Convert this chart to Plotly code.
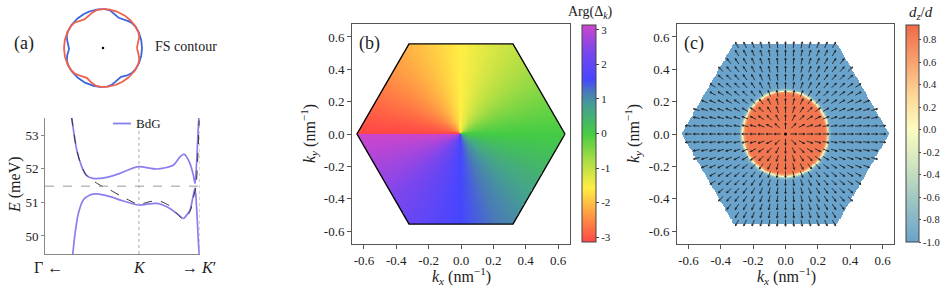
import numpy as np
import plotly.graph_objects as go

W, H = 946, 291
SERIF = "Liberation Serif"
TXT = "#222222"


def px(x):
    return x / W


def py(y):
    return 1 - y / H


# ---------------- panel (a): band dispersion (k along Gamma->K->K') ----------------
K_POS = 0.606
E_FERMI = 51.48
k_upper = [0.171, 0.205, 0.237, 0.265, 0.310, 0.398, 0.484, 0.600, 0.721, 0.826,
           0.871, 0.897, 0.935, 0.957, 0.968, 0.979, 0.989, 0.995]
E_upper = [53.55, 52.55, 52.06, 51.81, 51.71, 51.74, 51.86, 52.06, 51.99, 52.10,
           52.35, 52.43, 52.16, 51.81, 51.56, 52.26, 53.24, 53.70]
k_lower = [0.178, 0.194, 0.215, 0.247, 0.290, 0.334, 0.419, 0.505, 0.602, 0.721,
           0.806, 0.871, 0.892, 0.935, 0.957, 0.968, 0.979, 0.989, 0.995]
E_lower = [49.40, 50.08, 50.67, 51.07, 51.22, 51.25, 51.17, 51.04, 50.92, 50.97,
           50.82, 50.59, 50.52, 50.77, 51.22, 51.42, 50.77, 49.88, 49.40]
k_normal = [0.171, 0.205, 0.237, 0.265, 0.290, 0.355, 0.419, 0.484, 0.548, 0.602,
            0.677, 0.731, 0.806, 0.850, 0.892, 0.935, 0.957, 0.974, 0.983, 0.995]
E_normal = [53.55, 52.55, 52.06, 51.82, 51.71, 51.51, 51.37, 51.20, 51.05, 50.94,
            51.02, 51.05, 50.89, 50.67, 50.50, 50.72, 51.12, 51.48, 52.06, 53.44]
E_ticks = [50, 51, 52, 53]

# ---------------- FS contour inset parameters ----------------
FS_R = 1.0
FS_DENT = 0.13
FS_DENT_W = 0.24
FS_RED_DENTS = [0.0, 2 * np.pi / 3, 4 * np.pi / 3]
FS_BLUE_DENTS = [np.pi / 3, np.pi, 5 * np.pi / 3]

# ---------------- panels (b), (c): BZ fields ----------------
HEX_R = 0.643
DISK_R = 0.265
DZ_IN = 0.86
DZ_OUT = -1.0
DZ_W = 0.011
ARROW_STEP = 0.05
ARROW_LEN = 0.040
HEAD_LEN = 0.013
k_ticks = [-0.6, -0.4, -0.2, 0.0, 0.2, 0.4, 0.6]
k_ticktext = ["-0.6", "-0.4", "-0.2", "0.0", "0.2", "0.4", "0.6"]
arg_ticks = [-3, -2, -1, 0, 1, 2, 3]
arg_ticktext = ["-3", "-2", "-1", "0", "1", "2", "3"]
dz_ticks = [-1.0, -0.8, -0.6, -0.4, -0.2, 0.0, 0.2, 0.4, 0.6, 0.8]
dz_ticktext = ["-1.0", "-0.8", "-0.6", "-0.4", "-0.2", "0.0", "0.2", "0.4", "0.6", "0.8"]
DZ_MIN, DZ_MAX = -1.0, 0.93

BDG = "#8b7ff0"
RED = "#f2604c"
BLUE = "#3a66dd"

arg_scale = [
    [0.0, "#ff4646"], [0.125, "#ff9a44"], [0.25, "#ffee44"], [0.375, "#aadd44"],
    [0.5, "#44cc44"], [0.625, "#45a090"], [0.69, "#4a7ab8"], [0.75, "#4646ff"],
    [0.875, "#7a46ee"], [1.0, "#cc46cc"],
]
dz_scale = [
    [0.0, "#6aa3cb"], [0.207, "#a2c8c2"], [0.363, "#d2e6c0"], [0.518, "#fcfcc0"],
    [0.674, "#fdd898"], [0.829, "#f8a26e"], [1.0, "#f06a48"],
]

fig = go.Figure()

# ---- (a) bands ----
for kk, ee in ((k_upper, E_upper), (k_lower, E_lower)):
    fig.add_trace(go.Scatter(x=kk, y=ee, mode="lines",
                             line=dict(color=BDG, width=1.7, shape="spline", smoothing=0.7),
                             xaxis="x", yaxis="y", hoverinfo="skip"))
fig.add_trace(go.Scatter(x=k_normal, y=E_normal, mode="lines",
                         line=dict(color="#333333", width=1.0, dash="dash", shape="spline", smoothing=0.7),
                         xaxis="x", yaxis="y", hoverinfo="skip"))

# ---- FS inset ----
th = np.linspace(0, 2 * np.pi, 721)


def fs_radius(centers):
    r = np.full_like(th, FS_R)
    for c in centers:
        d = np.angle(np.exp(1j * (th - c)))
        r -= FS_DENT * np.exp(-(d / FS_DENT_W) ** 2)
    return r


rb = fs_radius(FS_BLUE_DENTS)
rr = fs_radius(FS_RED_DENTS)
fig.add_trace(go.Scatter(x=rb * np.cos(th), y=rb * np.sin(th), mode="lines",
                         line=dict(color=BLUE, width=1.8), xaxis="x2", yaxis="y2", hoverinfo="skip"))
fig.add_trace(go.Scatter(x=rr * np.cos(th), y=rr * np.sin(th), mode="lines",
                         line=dict(color=RED, width=1.8), xaxis="x2", yaxis="y2", hoverinfo="skip"))
fig.add_trace(go.Scatter(x=[0], y=[0], mode="markers", marker=dict(color="black", size=2.5),
                         xaxis="x2", yaxis="y2", hoverinfo="skip"))

# ---- grids for (b), (c) ----
N = 241
g = np.linspace(-0.66, 0.66, N)
X, Y = np.meshgrid(g, g)
s3 = np.sqrt(3)
inside = (np.abs(Y) <= HEX_R * s3 / 2) & (s3 * np.abs(X) + np.abs(Y) <= s3 * HEX_R)


def masked(Z):
    Z = np.round(Z, 3)
    return [[(float(v) if m else None) for v, m in zip(row, mrow)] for row, mrow in zip(Z, inside)]


phase = -np.arctan2(Y, X)
fig.add_trace(go.Heatmap(x=g, y=g, z=masked(phase), zmin=-np.pi, zmax=np.pi,
                         colorscale=arg_scale, xaxis="x3", yaxis="y3", hoverinfo="skip",
                         colorbar=dict(x=px(582), xanchor="left", y=py(133.5), yanchor="middle",
                                       len=217 / H, lenmode="fraction", thickness=14,
                                       thicknessmode="pixels", xpad=0, ypad=0,
                                       outlinewidth=1, outlinecolor="#444",
                                       tickvals=arg_ticks, ticktext=arg_ticktext,
                                       ticks="outside", ticklen=3, tickcolor="#444",
                                       tickfont=dict(family=SERIF, size=11, color=TXT))))
hx = [HEX_R * np.cos(a) for a in np.arange(7) * np.pi / 3]
hy = [HEX_R * np.sin(a) for a in np.arange(7) * np.pi / 3]
fig.add_trace(go.Scatter(x=hx, y=hy, mode="lines", line=dict(color="black", width=1.4),
                         xaxis="x3", yaxis="y3", hoverinfo="skip"))

R = np.hypot(X, Y)
dz = DZ_OUT + (DZ_IN - DZ_OUT) * 0.5 * (1 - np.tanh((R - DISK_R) / DZ_W))
fig.add_trace(go.Heatmap(x=g, y=g, z=masked(dz), zmin=DZ_MIN, zmax=DZ_MAX,
                         colorscale=dz_scale, xaxis="x4", yaxis="y4", hoverinfo="skip",
                         colorbar=dict(x=px(906), xanchor="left", y=py(133.5), yanchor="middle",
                                       len=217 / H, lenmode="fraction", thickness=13,
                                       thicknessmode="pixels", xpad=0, ypad=0,
                                       outlinewidth=1, outlinecolor="#444",
                                       tickvals=dz_ticks, ticktext=dz_ticktext,
                                       ticks="outside", ticklen=2, tickcolor="#444",
                                       tickfont=dict(family=SERIF, size=10.5, color=TXT))))

# quiver arrows (radial in-plane d-vector)
ax_, ay_ = [], []
grid = np.round(np.arange(-13, 14) * ARROW_STEP, 3)
hexr = HEX_R - 0.005
for x0 in grid:
    for y0 in grid:
        if abs(y0) > hexr * s3 / 2 or s3 * abs(x0) + abs(y0) > s3 * hexr:
            continue
        r = np.hypot(x0, y0)
        if r < 1e-9:
            continue
        ux, uy = x0 / r, y0 / r
        tx, ty = x0 + ux * ARROW_LEN / 2, y0 + uy * ARROW_LEN / 2
        bx, by = x0 - ux * ARROW_LEN / 2, y0 - uy * ARROW_LEN / 2
        ax_ += [bx, tx, None]
        ay_ += [by, ty, None]
        for sgn in (1, -1):
            a = np.arctan2(uy, ux) + np.pi + sgn * 0.45
            ax_ += [tx, tx + HEAD_LEN * np.cos(a), None]
            ay_ += [ty, ty + HEAD_LEN * np.sin(a), None]
fig.add_trace(go.Scatter(x=ax_, y=ay_, mode="lines", line=dict(color="#222222", width=0.9),
                         xaxis="x4", yaxis="y4", hoverinfo="skip"))
fig.add_trace(go.Scatter(x=[0], y=[0], mode="markers", marker=dict(color="black", size=3),
                         xaxis="x4", yaxis="y4", hoverinfo="skip"))

# ---------------- axes ----------------
tickfont = dict(family=SERIF, size=13, color=TXT)
frame = dict(showline=True, linecolor="#555", linewidth=1, mirror=True, showgrid=False,
             zeroline=False, ticks="outside", ticklen=4, tickcolor="#555", tickfont=tickfont,
             tickvals=k_ticks, ticktext=k_ticktext)

layout = dict(
    width=W, height=H, margin=dict(l=0, r=0, t=0, b=0),
    paper_bgcolor="white", plot_bgcolor="white", showlegend=False,
    xaxis=dict(domain=[px(45), px(200)], range=[0, 1], showticklabels=False, ticks="",
               showline=True, linecolor="#888", showgrid=False, zeroline=False, anchor="y"),
    yaxis=dict(domain=[py(254), py(118)], range=[49.465, 53.505], tickvals=E_ticks,
               ticks="outside", ticklen=3, tickcolor="#888", showline=True, linecolor="#888",
               showgrid=False, zeroline=False, tickfont=tickfont, anchor="x"),
    xaxis2=dict(domain=[px(58), px(148)], range=[-1.154, 1.154], visible=False, anchor="y2"),
    yaxis2=dict(domain=[py(93), py(3)], range=[-1.154, 1.154], visible=False, anchor="x2"),
    xaxis3=dict(domain=[px(352), px(570)], range=[-0.674, 0.674], anchor="y3", **frame),
    yaxis3=dict(domain=[py(244), py(24)], range=[-0.68, 0.68], anchor="x3", **frame),
    xaxis4=dict(domain=[px(677), px(894)], range=[-0.671, 0.671], anchor="y4", **frame),
    yaxis4=dict(domain=[py(244), py(24)], range=[-0.68, 0.68], anchor="x4", **frame),
)
fig.update_layout(**layout)

# reference lines in (a)
fig.add_shape(type="line", xref="x", yref="y", x0=0, x1=1, y0=E_FERMI, y1=E_FERMI,
              line=dict(color="#999", width=1, dash="dash"))
fig.add_shape(type="line", xref="x", yref="y domain", x0=K_POS, x1=K_POS, y0=0, y1=1,
              line=dict(color="#aaa", width=1, dash="dot"))
fig.add_shape(type="line", xref="x", yref="y domain", x0=1, x1=1, y0=0, y1=1,
              line=dict(color="#aaa", width=1, dash="dot"))
# legend sample
fig.add_shape(type="line", xref="paper", yref="paper", x0=px(113), x1=px(131),
              y0=py(123.5), y1=py(123.5), line=dict(color=BDG, width=1.8))


def ann(text, x, y, size=13, xanchor="center", angle=0):
    fig.add_annotation(text=text, x=px(x), y=py(y), xref="paper", yref="paper",
                       showarrow=False, xanchor=xanchor, yanchor="middle", textangle=angle,
                       font=dict(family=SERIF, size=size, color=TXT))


ann("BdG", 134, 123.5, size=13, xanchor="left")
ann("(a)", 24, 43, size=18)
ann("FS contour", 153, 47, size=14, xanchor="left")
ann("(b)", 369, 43, size=18)
ann("(c)", 694, 43, size=18)
ann("<i>E</i> (meV)", 15, 185, size=16, angle=-90)
ann("Γ ←", 48, 267, size=16)
ann("<i>K</i>", 139, 267, size=16)
ann("→ <i>K</i>′", 199, 267, size=16)
ann("<i>k<sub>x</sub></i> (nm<sup>−1</sup>)", 461, 276, size=16)
ann("<i>k<sub>x</sub></i> (nm<sup>−1</sup>)", 786, 276, size=16)
ann("<i>k<sub>y</sub></i> (nm<sup>−1</sup>)", 309, 134, size=16, angle=-90)
ann("<i>k<sub>y</sub></i> (nm<sup>−1</sup>)", 633, 134, size=16, angle=-90)
ann("Arg(Δ<sub><i>k</i></sub>)", 590, 13, size=14)
ann("<i>d<sub>z</sub></i>/<i>d</i>", 921, 13, size=15)

fig.write_html("out.html", config={"displayModeBar": False, "staticPlot": True},
               post_script="document.body.style.margin='0px';document.body.style.overflow='hidden';")
